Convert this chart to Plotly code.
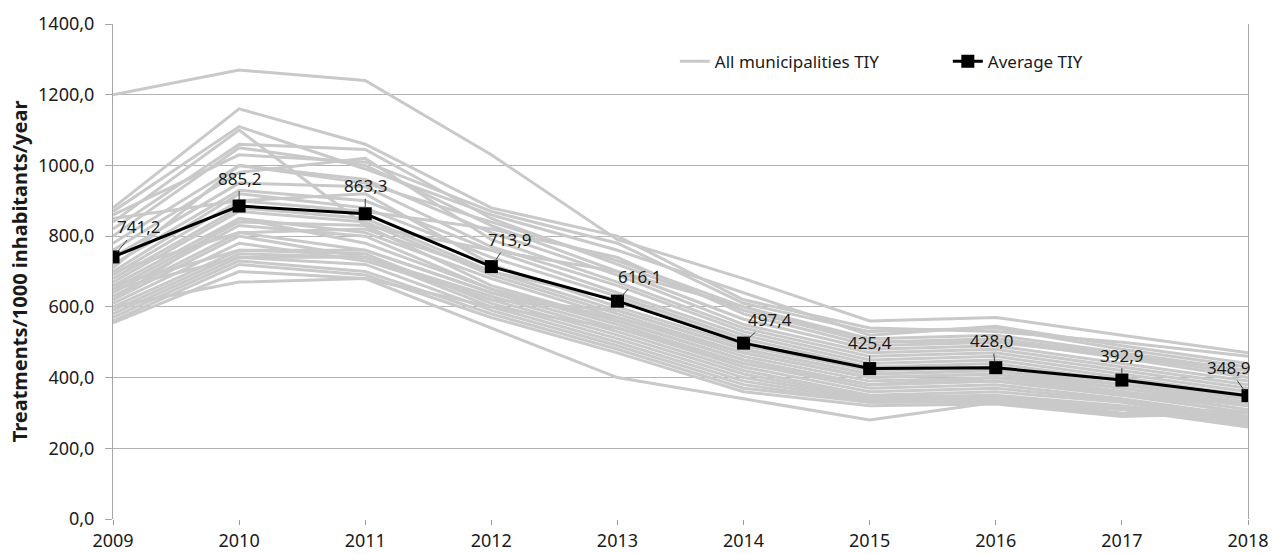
import plotly.graph_objects as go

years = [2009, 2010, 2011, 2012, 2013, 2014, 2015, 2016, 2017, 2018]
average_tiy = [741.2, 885.2, 863.3, 713.9, 616.1, 497.4, 425.4, 428.0, 392.9, 348.9]

m01 = [1200, 1270, 1240, 1030, 790, 680, 560, 570, 520, 470]
m02 = [880, 1160, 1060, 880, 800, 620, 540, 530, 500, 460]
m03 = [870, 1110, 990, 860, 760, 640, 520, 545, 490, 440]
m04 = [840, 1100, 830, 760, 700, 600, 510, 520, 470, 420]
m05 = [820, 1060, 1045, 850, 720, 590, 500, 505, 455, 400]
m06 = [800, 1050, 1000, 830, 700, 565, 480, 490, 440, 390]
m07 = [780, 1000, 960, 810, 690, 550, 470, 480, 430, 380]
m08 = [760, 980, 1020, 790, 670, 540, 460, 470, 420, 370]
m09 = [740, 950, 940, 770, 660, 530, 450, 460, 410, 360]
m10 = [720, 930, 900, 760, 640, 520, 440, 450, 400, 350]
m11 = [700, 920, 880, 740, 630, 510, 430, 440, 390, 340]
m12 = [690, 900, 920, 720, 600, 490, 420, 430, 380, 330]
m13 = [680, 880, 850, 700, 590, 480, 410, 420, 370, 320]
m14 = [670, 870, 840, 690, 580, 470, 400, 410, 360, 310]
m15 = [660, 850, 810, 680, 570, 460, 390, 400, 355, 300]
m16 = [650, 840, 830, 660, 560, 450, 380, 390, 350, 300]
m17 = [640, 830, 800, 650, 550, 440, 370, 380, 340, 290]
m18 = [630, 810, 760, 640, 540, 430, 360, 370, 335, 280]
m19 = [620, 800, 740, 630, 530, 420, 350, 360, 330, 270]
m20 = [610, 780, 730, 620, 520, 410, 345, 350, 320, 275]
m21 = [600, 760, 750, 610, 510, 400, 340, 345, 315, 265]
m22 = [590, 750, 740, 600, 500, 390, 335, 340, 310, 260]
m23 = [580, 740, 720, 590, 490, 380, 330, 335, 300, 285]
m24 = [570, 730, 700, 580, 480, 370, 330, 330, 295, 290]
m25 = [560, 720, 690, 570, 470, 360, 320, 325, 290, 300]
m26 = [555, 700, 680, 540, 400, 340, 280, 330, 310, 305]
m27 = [620, 850, 780, 650, 560, 450, 380, 400, 360, 320]
m28 = [700, 810, 820, 700, 620, 500, 420, 430, 380, 340]
m29 = [660, 760, 760, 640, 570, 470, 400, 410, 370, 330]
m30 = [600, 670, 680, 600, 540, 440, 380, 390, 350, 330]
m31 = [860, 1030, 1010, 870, 780, 610, 530, 540, 480, 430]
m32 = [850, 900, 870, 820, 740, 580, 490, 500, 460, 410]
m33 = [710, 1000, 950, 840, 730, 600, 500, 510, 465, 420]
m34 = [650, 740, 740, 620, 590, 480, 410, 420, 380, 345]

municipalities = [m01, m02, m03, m04, m05, m06, m07, m08, m09, m10, m11, m12,
                  m13, m14, m15, m16, m17, m18, m19, m20, m21, m22, m23, m24,
                  m25, m26, m27, m28, m29, m30, m31, m32, m33, m34]

y_ticks = [0, 200, 400, 600, 800, 1000, 1200, 1400]

# label offsets (pixels) for the data labels of the average line
label_dx = [25, 0, 0, 18, 22, 26, 0, -4, 0, -20]
label_dy = [-30, -28, -28, -27, -25, -24, -26, -27, -25, -28]

GREY = "#c9c9c9"
FONT = "Noto Sans"
fig = go.Figure()

for i, m in enumerate(municipalities):
    fig.add_trace(go.Scatter(
        x=years, y=m, mode="lines",
        line=dict(color=GREY, width=3),
        name="All municipalities TIY",
        showlegend=(i == 0), legendgroup="all", hoverinfo="skip"))

fig.add_trace(go.Scatter(
    x=years, y=average_tiy, mode="lines+markers",
    line=dict(color="black", width=3),
    marker=dict(symbol="square", size=13, color="black"),
    name="Average TIY"))

for x, v, dx, dy in zip(years, average_tiy, label_dx, label_dy):
    fig.add_annotation(
        x=x, y=v, text=f"{v:.1f}".replace(".", ","),
        showarrow=True, arrowhead=0, arrowwidth=1, arrowcolor="#404040",
        ax=dx, ay=dy, standoff=6,
        font=dict(family=FONT, size=17, color="#1a1a1a"))

fig.update_layout(
    width=1272, height=554,
    margin=dict(l=113, r=24, t=24, b=35, autoexpand=False),
    paper_bgcolor="white", plot_bgcolor="white",
    separators=",.",
    font=dict(family=FONT, size=17, color="#1a1a1a"),
    legend=dict(orientation="h", x=0.495, y=0.96, xanchor="left", yanchor="top",
                bgcolor="rgba(0,0,0,0)", font=dict(size=17),
                entrywidth=228, entrywidthmode="pixels",
                traceorder="normal"),
    showlegend=True,
)

fig.update_xaxes(
    range=[2009, 2018], tickvals=years, ticktext=[str(y) for y in years],
    showgrid=False, showline=False, zeroline=False,
    ticks="outside", ticklen=5, tickcolor="#999999",
    tickfont=dict(size=18))

fig.update_yaxes(
    range=[0, 1400], tickvals=y_ticks, tickformat=".1f",
    showgrid=True, gridcolor="#b3b3b3", gridwidth=1,
    showline=True, linecolor="#a6a6a6", linewidth=1, mirror=True,
    zeroline=False,
    ticks="outside", ticklen=7, tickcolor="#a6a6a6",
    ticklabelstandoff=7,
    tickfont=dict(size=18),
    title=dict(text="<b>Treatments/1000 inhabitants/year</b>", font=dict(size=20), standoff=5))

fig.write_html(
    "out.html",
    config={"displayModeBar": False},
    post_script="document.body.style.margin='0';document.body.style.overflow='hidden';")
